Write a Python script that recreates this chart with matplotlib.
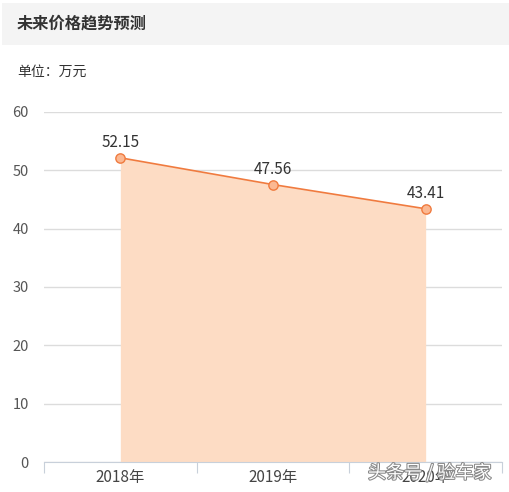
import matplotlib
matplotlib.use("Agg")
import matplotlib.pyplot as plt
import matplotlib.patheffects as pe
from matplotlib.patches import Rectangle

plt.rcParams['font.family'] = ['Noto Sans CJK SC', 'DejaVu Sans']

# # DATA

years = ["2018年", "2019年", "2020年"]
prices = [52.15, 47.56, 43.41]
y_ticks = [0, 10, 20, 30, 40, 50, 60]

title = "未来价格趋势预测"
unit_text = "单位：万元"

W, H = 509, 492
fig = plt.figure(figsize=(W / 100, H / 100), dpi=100)

# header band
fig.patches.append(Rectangle((2 / W, 1 - 45 / H), 1, 42 / H, transform=fig.transFigure,
                             facecolor="#f4f4f4", edgecolor="none", zorder=0))
fig.text(17 / W, 1 - 24 / H, title, fontsize=11.7, fontweight="bold", color="#333333", va="center")
fig.text(17 / W, 1 - 72 / H, unit_text, fontsize=10, color="#333333", va="center")

# # PLOT AREA

ax = fig.add_axes([44 / W, 30 / H, 458 / W, 350 / H])
x = list(range(len(years)))

ax.fill_between(x, prices, 0, color="#fddcc4", linewidth=0, zorder=1)
ax.plot(x, prices, color="#f07b3f", linewidth=1.2, zorder=3)
ax.scatter(x, prices, s=45, facecolor="#fbb892", edgecolor="#f07b3f", linewidth=1, zorder=4)

for xi, v in zip(x, prices):
    ax.annotate(f"{v:.2f}", (xi, v), xytext=(0, 5), textcoords="offset points",
                ha="center", va="bottom", fontsize=11, color="#333333")

ax.set_xlim(-0.5, len(years) - 0.5)
ax.set_ylim(0, 60)
ax.set_yticks(y_ticks)
ax.set_yticklabels([str(t) for t in y_ticks])
ax.yaxis.grid(True, color="#dcdcdc", linewidth=1)
ax.set_axisbelow(True)

ax.set_xticks([i - 0.5 for i in range(len(years) + 1)])
ax.set_xticklabels([])
ax.set_xticks(x, minor=True)
ax.set_xticklabels(years, minor=True)
ax.tick_params(axis="x", which="major", length=8, color="#c8d0da", direction="out")
ax.tick_params(axis="x", which="minor", length=0, pad=5, labelsize=11, labelcolor="#444444")
ax.tick_params(axis="y", length=0, pad=11, labelsize=10.5, labelcolor="#555555")

for side in ["top", "right", "left"]:
    ax.spines[side].set_visible(False)
ax.spines["bottom"].set_color("#c8d0da")

# watermark
fig.text(368 / W, 1 - 473 / H, "头条号 / 验车家", fontsize=13, color="white", va="center",
         path_effects=[pe.withStroke(linewidth=1.5, foreground="#888888")], zorder=10)

fig.savefig("out.png", dpi=100)
